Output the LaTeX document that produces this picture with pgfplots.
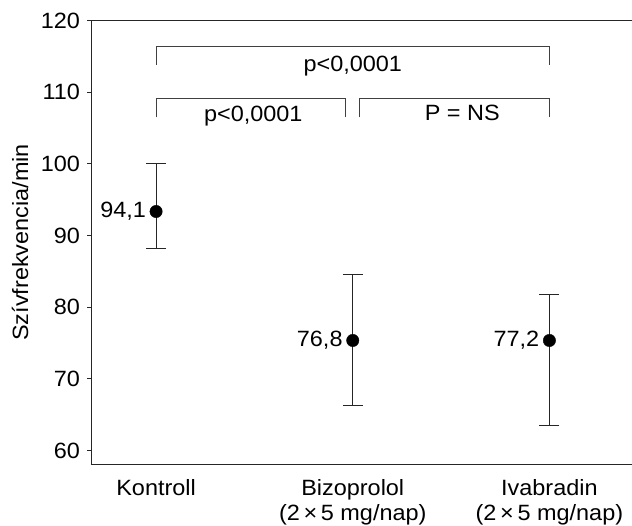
\documentclass[border=0pt]{standalone}
\usepackage{fontspec}
\setmainfont{Liberation Sans}[FakeStretch=1.06]
\usepackage{pgfplots}
\usepackage{pgfplotstable}
\pgfplotsset{compat=1.18}

% mean, upper and lower error, printed label
\pgfplotstableread{
x y ep em lab
0 93.36 6.69 5.16 94,1
1 75.37 9.16 9.07 76,8
2 75.37 6.43 11.81 77,2
}\hrdata

\begin{document}
\fontsize{22.2}{25}\selectfont
\begin{tikzpicture}
  \useasboundingbox (-91bp,-61bp) rectangle (541bp,464.5bp);
  \begin{axis}[%
      scale only axis,
      width=541bp, height=444bp,
      xmin=-0.331, xmax=2.42,
      ymin=58.07, ymax=120,
      axis lines=left,
      axis line style={-, line width=1pt, black!85},
      tick align=outside,
      major tick length=3.5bp,
      ytick={60,70,...,120},
      xtick={0,1,2},
      xtick style={draw=none},
      ytick style={line width=1pt, black!85},
      xticklabels={Kontroll,Bizoprolol\\(2\,×\,5 mg/nap),Ivabradin\\(2\,×\,5 mg/nap)},
      xticklabel style={align=center, yshift=-4bp},
      /pgf/number format/assume math mode=true,
      ylabel={Szívfrekvencia/min},
      every axis y label/.style={at={(axis description cs:-0.131,0.5)}, rotate=90, anchor=center},
      clip=false,
      ]
    \draw[line width=1pt, black!85] (rel axis cs:0,1) -- (rel axis cs:1,1);
    \addplot[%
        only marks,
        mark=*,
        mark size=6.2bp,
        black,
        error bars/.cd,
          y dir=both,
          y explicit,
          error bar style={line width=0.8pt, black!85},
          error mark options={rotate=90, mark size=10bp, line width=0.8pt, black!85},
        ] table[x=x, y=y, y error plus=ep, y error minus=em, meta=lab] {\hrdata};
    \addplot[%
        only marks, mark=none,
        point meta=explicit symbolic,
        nodes near coords,
        nodes near coords style={anchor=east, inner sep=0pt, xshift=-10bp},
        ] table[x=x, y=y, meta=lab] {\hrdata};
    % significance brackets
    \draw[line width=0.9pt, black!75] (axis cs:0,113.8) -- (axis cs:0,116.4) -- (axis cs:2,116.4) -- (axis cs:2,113.8);
    \draw[line width=0.9pt, black!75] (axis cs:0,106.5) -- (axis cs:0,109.1) -- (axis cs:0.962,109.1) -- (axis cs:0.962,106.5);
    \draw[line width=0.9pt, black!75] (axis cs:1.033,106.5) -- (axis cs:1.033,109.1) -- (axis cs:2,109.1) -- (axis cs:2,106.5);
    \node[anchor=base, inner sep=0pt] at (axis cs:1,112.9) {p<0,0001};
    \node[anchor=base, inner sep=0pt] at (axis cs:0.494,105.95) {p<0,0001};
    \node[anchor=base, inner sep=0pt] at (axis cs:1.557,106.1) {P = NS};
  \end{axis}
\end{tikzpicture}
\end{document}
